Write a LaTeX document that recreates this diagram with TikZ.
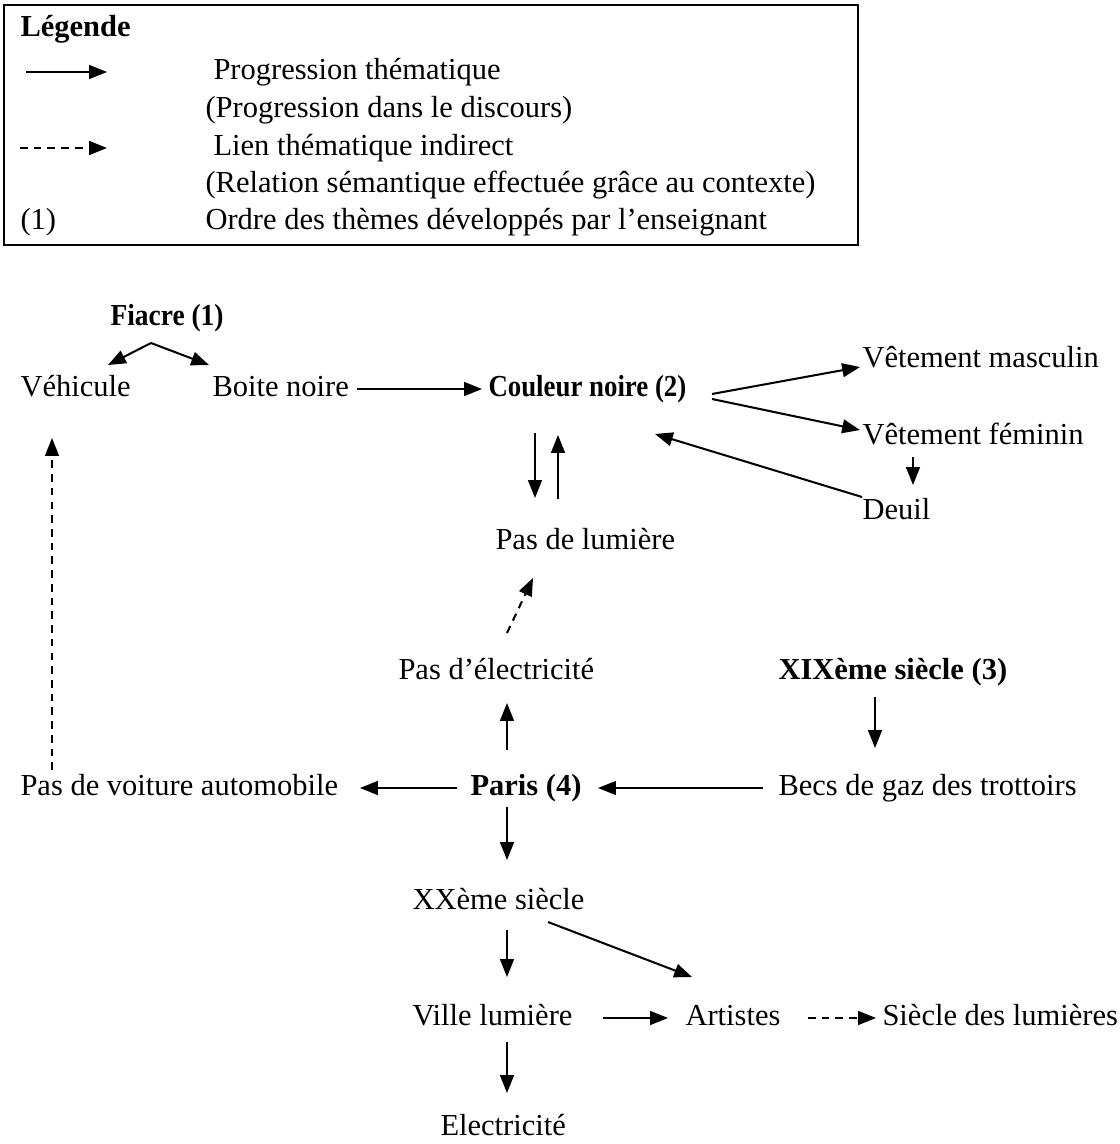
\documentclass[tikz,border=0pt]{standalone}
\usepackage{fontspec}
\setmainfont{Liberation Serif}
\usetikzlibrary{positioning,arrows.meta,calc}

\begin{document}
\begin{tikzpicture}[
  x=0.3934pt, y=-0.3934pt,
  txt/.style ={anchor=west,inner sep=0pt,text height=8.6pt,text depth=2.6pt,
               font=\fontsize{12pt}{14pt}\selectfont},
  txtb/.style={txt,font=\fontsize{12pt}{14pt}\selectfont\bfseries},
  arr/.style ={-{Triangle[length=7pt,width=5.4pt]},line width=0.8pt},
  darr/.style={arr,dash pattern=on 3pt off 2.4pt},
  >=Triangle
]
\useasboundingbox (0,0) rectangle (1120,1144);

% legend
\draw[line width=0.9pt] (4,5) rectangle (858,245);
\node[txtb] (leg) at (20,29) {Légende};
\coordinate (ls1) at (26,72);
\coordinate (ls2) at (107,72);
\coordinate (ld1) at (20,148);
\coordinate (ld2) at (107,148);
\draw[arr]  (ls1) -- (ls2);
\draw[darr] (ld1) -- (ld2);
\node[txt] (lp1) at (213,72)  {Progression thématique};
\node[txt] (lp2) at (205,110) {(Progression dans le discours)};
\node[txt] (ll1) at (213,148) {Lien thématique indirect};
\node[txt] (ll2) at (205,185) {(Relation sémantique effectuée grâce au contexte)};
\node[txt] (lo0) at (20,222)  {(1)};
\node[txt] (lo1) at (205,222) {Ordre des thèmes développés par l’enseignant};

% themes
\node[txtb] (fiacre)   at (110,318)  {\scalebox{0.9}[1]{Fiacre (1)}};
\node[txt]  (veh)      at (20,389)   {Véhicule};
\node[txt]  (boite)    at (212,389)  {Boite noire};
\node[txtb] (couleur)  at (488,389)  {\scalebox{0.88}[1]{Couleur noire (2)}};
\node[txt]  (vmasc)    at (862,360)  {Vêtement masculin};
\node[txt]  (vfem)     at (862,437)  {Vêtement féminin};
\node[txt]  (deuil)    at (862,512)  {Deuil};
\node[txt]  (lumiere)  at (495,542)  {Pas de lumière};
\node[txt]  (elec)     at (398,672)  {Pas d’électricité};
\node[txtb] (xix)      at (778,672)  {XIXème siècle (3)};
\node[txt]  (voiture)  at (20,788)   {Pas de voiture automobile};
\node[txtb] (paris)    at (470,788)  {Paris (4)};
\node[txt]  (becs)     at (778,788)  {Becs de gaz des trottoirs};
\node[txt]  (xx)       at (412,902)  {XXème siècle};
\node[txt]  (ville)    at (412,1018) {Ville lumière};
\node[txt]  (artistes) at (685,1018) {Artistes};
\node[txt]  (siecle)   at (882,1018) {Siècle des lumières};
\node[txt]  (electr)   at (440,1128) {Electricité};

\draw[arr] ($(fiacre.west)+(41,25)$) -- ($(veh.west)+(88,-24)$);
\draw[arr] ($(fiacre.west)+(41,25)$) -- ($(boite.west)+(-3,-24)$);
\draw[arr] ($(boite.west)+(145,0)$) -- ($(couleur.west)+(-6,0)$);
\draw[arr] ($(couleur.west)+(224,5)$) -- ($(vmasc.west)+(-2,7)$);
\draw[arr] ($(couleur.west)+(224,10)$) -- ($(vfem.west)+(-2,-7)$);
\draw[arr] ($(vfem.west)+(51,20)$) -- ($(deuil.west)+(51,-27)$);
\draw[arr] ($(deuil.west)+(0,-15)$) -- ($(couleur.west)+(167,45)$);
\draw[arr] ($(couleur.west)+(47,44)$) -- ($(lumiere.west)+(40,-44)$);
\draw[arr] ($(lumiere.west)+(63,-43)$) -- ($(couleur.west)+(70,46)$);
\draw[darr] ($(elec.west)+(109,-39)$) -- ($(lumiere.west)+(38,36)$);
\draw[arr] ($(paris.west)+(37,-38)$) -- ($(elec.west)+(109,31)$);
\draw[arr] ($(xix.west)+(97,25)$) -- ($(becs.west)+(97,-40)$);
\draw[arr] ($(becs.west)+(-15,0)$) -- ($(paris.west)+(128,0)$);
\draw[arr] ($(paris.west)+(-13,0)$) -- ($(voiture.west)+(340,0)$);
\draw[darr] ($(voiture.west)+(32,-18)$) -- ($(veh.west)+(32,49)$);
\draw[arr] ($(paris.west)+(37,19)$) -- ($(xx.west)+(95,-42)$);
\draw[arr] ($(xx.west)+(95,28)$) -- ($(ville.west)+(95,-41)$);
\draw[arr] ($(xx.west)+(136,20)$) -- ($(artistes.west)+(7,-41)$);
\draw[arr] ($(ville.west)+(191,0)$) -- ($(artistes.west)+(-17,0)$);
\draw[darr] ($(artistes.west)+(123,0)$) -- ($(siecle.west)+(-6,0)$);
\draw[arr] ($(ville.west)+(95,24)$) -- ($(electr.west)+(67,-35)$);
\end{tikzpicture}
\end{document}
